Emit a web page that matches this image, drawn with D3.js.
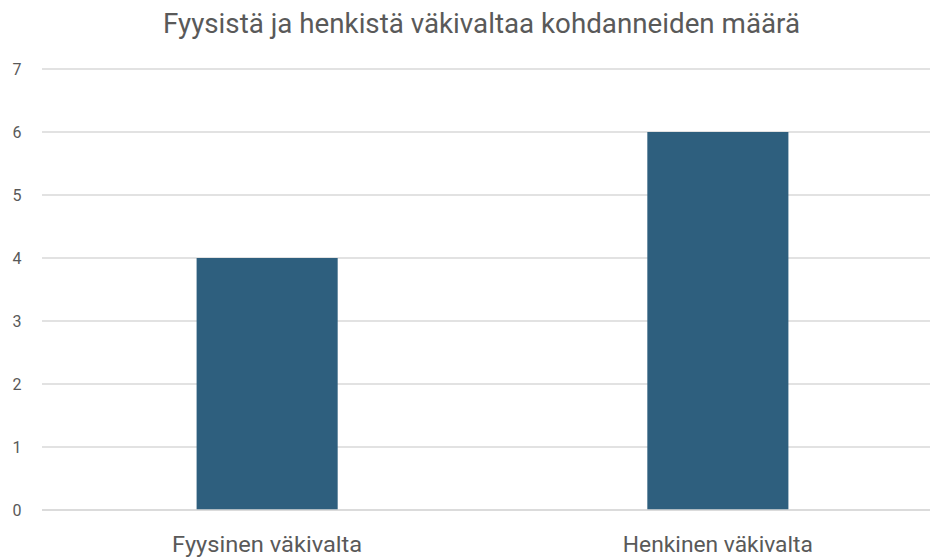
<!DOCTYPE html>
<html lang="fi">
    <head>
        <meta charset="utf-8">
        <title>D3</title>
        <script type="text/javascript" src="https://cdnjs.cloudflare.com/ajax/libs/d3/7.8.5/d3.min.js"></script>
        <style type="text/css">
            body { margin: 0; background: #fff; }
            text { font-family: "Roboto", "DejaVu Sans Condensed", sans-serif; fill: #595959; }
        </style>
    </head>
    <body>
        <script type="text/javascript">
            var w = 930;
            var h = 559;

            var title = "Fyysistä ja henkistä väkivaltaa kohdanneiden määrä";
            var categories = ["Fyysinen väkivalta", "Henkinen väkivalta"];
            var values = [4, 6];
            var yTicks = [0, 1, 2, 3, 4, 5, 6, 7];

            var svg = d3.select("body")
                        .append("svg")
                        .attr("width", w)
                        .attr("height", h);

            var x = d3.scaleBand()
                      .domain(categories)
                      .range([42, 943])
                      .paddingInner(0.687)
                      .paddingOuter(0.343);

            var y = d3.scaleLinear()
                      .domain([0, 7])
                      .range([510, 69]);

            // gridlines
            svg.selectAll("line.grid")
               .data(yTicks)
               .enter()
               .append("line")
               .attr("class", "grid")
               .attr("x1", 42)
               .attr("x2", w)
               .attr("y1", function (d) { return y(d); })
               .attr("y2", function (d) { return y(d); })
               .attr("stroke", "#d9d9d9")
               .attr("stroke-width", 1.5);

            // y labels
            svg.selectAll("text.ylab")
               .data(yTicks)
               .enter()
               .append("text")
               .attr("class", "ylab")
               .attr("x", 17)
               .attr("y", function (d) { return y(d); })
               .attr("dy", "0.35em")
               .attr("text-anchor", "middle")
               .style("font-size", "16px")
               .text(function (d) { return d; });

            svg.selectAll("rect")
               .data(values)
               .enter()
               .append("rect")
               .attr("x", function (d, i) { return x(categories[i]); })
               .attr("y", function (d) { return y(d); })
               .attr("width", x.bandwidth())
               .attr("height", function (d) { return y(0) - y(d); })
               .attr("fill", "#2e5f7e");

            svg.append("line")
               .attr("x1", 42).attr("x2", w)
               .attr("y1", y(0)).attr("y2", y(0))
               .attr("stroke", "#d9d9d9")
               .attr("stroke-width", 1.5);

            svg.selectAll("text.xlab")
               .data(categories)
               .enter()
               .append("text")
               .attr("class", "xlab")
               .attr("x", function (d) { return x(d) + x.bandwidth() / 2; })
               .attr("y", 552)
               .attr("text-anchor", "middle")
               .style("font-size", "22px")
               .attr("textLength", 190)
               .attr("lengthAdjust", "spacingAndGlyphs")
               .text(function (d) { return d; });

            svg.append("text")
               .attr("x", 481.5)
               .attr("y", 33)
               .attr("text-anchor", "middle")
               .style("font-size", "28px")
               .attr("textLength", 637)
               .attr("lengthAdjust", "spacingAndGlyphs")
               .text(title);
        </script>
    </body>
</html>
